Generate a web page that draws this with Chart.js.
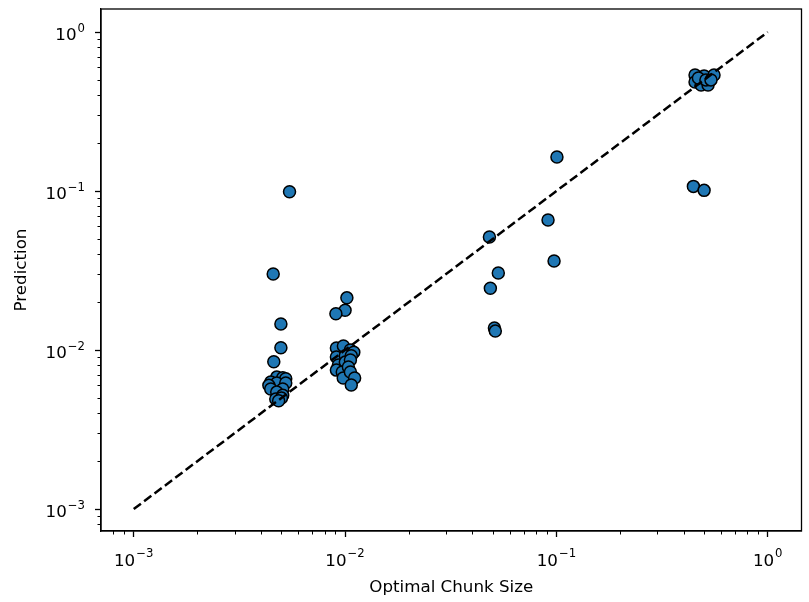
<!DOCTYPE html>
<html>
<head>
<meta charset="utf-8">
<script src="https://cdn.jsdelivr.net/npm/chart.js@4"></script>
<style>
  html, body { margin: 0; padding: 0; background: #fff; }
  canvas { display: block; }
</style>
</head>
<body>
<canvas id="chart" width="809" height="602"></canvas>
<script>
// data (log-log scatter)
const chunkSize = [
  0.00546, 0.00457, 0.00497, 0.00497, 0.0046, 0.00475, 0.00507, 0.00524, 0.00445, 0.00475,
  0.00524, 0.00436, 0.00445, 0.00507, 0.00475, 0.00507, 0.0047, 0.005, 0.00485,
  0.0102, 0.01, 0.00905, 0.0091, 0.00982, 0.01059, 0.011, 0.0091, 0.01003, 0.0107,
  0.0093, 0.01003, 0.0106, 0.0091, 0.0097, 0.01037, 0.0098, 0.0106, 0.0111, 0.0107,
  0.0482, 0.0487, 0.0531, 0.0509, 0.0514, 0.0913, 0.0975, 0.1006,
  0.453, 0.5, 0.557, 0.453, 0.484, 0.522, 0.47, 0.51, 0.539, 0.445, 0.5
];
const prediction = [
  0.099, 0.0301, 0.0146, 0.01035, 0.00844, 0.00676, 0.0067, 0.0066, 0.00629, 0.0062,
  0.0062, 0.006, 0.00569, 0.00569, 0.00544, 0.0052, 0.00492, 0.00499, 0.0048,
  0.0213, 0.0178, 0.0169, 0.0103, 0.0106, 0.01, 0.0097, 0.00904, 0.0092, 0.0092,
  0.00805, 0.0084, 0.00865, 0.00748, 0.00727, 0.00782, 0.00667, 0.00727, 0.00667, 0.00603,
  0.0514, 0.0245, 0.0305, 0.01375, 0.01316, 0.0657, 0.0363, 0.1636,
  0.537, 0.53, 0.537, 0.485, 0.464, 0.464, 0.514, 0.5, 0.5, 0.107, 0.101
];
const diagonalX = [0.001, 1];
const diagonalY = [0.001, 1];
const majorTicks = [0.001, 0.01, 0.1, 1];
const tickExponents = ["\u22123", "\u22122", "\u22121", "0"];

const FONT = "'DejaVu Sans', sans-serif";
const BASE_SIZE = 16.7;
const SUP_SIZE = 11.7;

// ============================
// Frame, minor log ticks, 10^n labels
// ============================
const frameAndTicks = {
  id: "frameAndTicks",
  afterDraw(chart) {
    const { ctx, chartArea: a } = chart;
    const xs = chart.scales.x;
    const ys = chart.scales.y;
    ctx.save();
    ctx.strokeStyle = "#000";
    ctx.lineWidth = 1.3;
    ctx.strokeRect(a.left, a.top, a.right - a.left, a.bottom - a.top);

    // minor ticks
    ctx.lineWidth = 1;
    for (let d = -4; d <= 0; d++) {
      for (let k = 2; k <= 9; k++) {
        const v = k * Math.pow(10, d);
        if (v > xs.min && v < xs.max) {
          const px = Math.round(xs.getPixelForValue(v)) + 0.5;
          ctx.beginPath();
          ctx.moveTo(px, a.bottom);
          ctx.lineTo(px, a.bottom + 3.5);
          ctx.stroke();
        }
        if (v > ys.min && v < ys.max) {
          const py = Math.round(ys.getPixelForValue(v)) + 0.5;
          ctx.beginPath();
          ctx.moveTo(a.left, py);
          ctx.lineTo(a.left - 3.5, py);
          ctx.stroke();
        }
      }
    }

    // tick labels as 10 with a raised exponent
    ctx.fillStyle = "#000";
    ctx.textBaseline = "alphabetic";
    ctx.textAlign = "left";
    const base = `${BASE_SIZE}px ${FONT}`;
    const sup = `${SUP_SIZE}px ${FONT}`;
    majorTicks.forEach((v, i) => {
      ctx.font = base;
      const w10 = ctx.measureText("10").width;
      ctx.font = sup;
      const wExp = ctx.measureText(tickExponents[i]).width;
      const total = w10 + wExp + 1;

      // x axis
      const px = xs.getPixelForValue(v);
      const x0 = px - total / 2;
      ctx.font = base;
      ctx.fillText("10", x0, a.bottom + 35);
      ctx.font = sup;
      ctx.fillText(tickExponents[i], x0 + w10 + 1, a.bottom + 26.3);

      // y axis
      const py = ys.getPixelForValue(v);
      const y0 = a.left - 16 - total;
      ctx.font = base;
      ctx.fillText("10", y0, py + 8.3);
      ctx.font = sup;
      ctx.fillText(tickExponents[i], y0 + w10 + 1, py);
    });
    ctx.restore();
  },
};

function axis(min, max, title, titlePad) {
  return {
    type: "logarithmic",
    min,
    max,
    afterBuildTicks: (scale) => {
      scale.ticks = majorTicks.map((v) => ({ value: v }));
    },
    ticks: { display: false, autoSkip: false },
    grid: {
      drawOnChartArea: false,
      tickLength: 6,
      tickColor: "#000",
      tickWidth: 1.3,
    },
    border: { display: true, color: "#000", width: 1.3 },
    title: {
      display: true,
      text: title,
      color: "#000",
      font: { family: FONT, size: BASE_SIZE },
      padding: titlePad,
    },
  };
}

const xAxis = axis(0.0007, 1.445, "Optimal Chunk Size", { top: 0, bottom: 4 });
xAxis.afterFit = (scale) => { scale.height = 71; };
const yAxis = axis(0.000728, 1.396, "Prediction", { top: 12, bottom: 0 });
yAxis.afterFit = (scale) => { scale.width = 101; };

new Chart(document.getElementById("chart"), {
  type: "scatter",
  data: {
    datasets: [
      {
        type: "line",
        data: diagonalX.map((x, i) => ({ x, y: diagonalY[i] })),
        borderColor: "#000",
        borderWidth: 2.5,
        borderDash: [9, 4],
        pointRadius: 0,
        fill: false,
        order: 0,
      },
      {
        data: chunkSize.map((x, i) => ({ x, y: prediction[i] })),
        backgroundColor: "#1f77b4",
        borderColor: "#000",
        borderWidth: 1.5,
        pointRadius: 6,
        order: 1,
      },
    ],
  },
  options: {
    responsive: false,
    animation: false,
    layout: { padding: { left: 0, top: 9, right: 3, bottom: 0 } },
    plugins: { legend: { display: false }, tooltip: { enabled: false } },
    scales: { x: xAxis, y: yAxis },
  },
  plugins: [frameAndTicks],
});
</script>
</body>
</html>
